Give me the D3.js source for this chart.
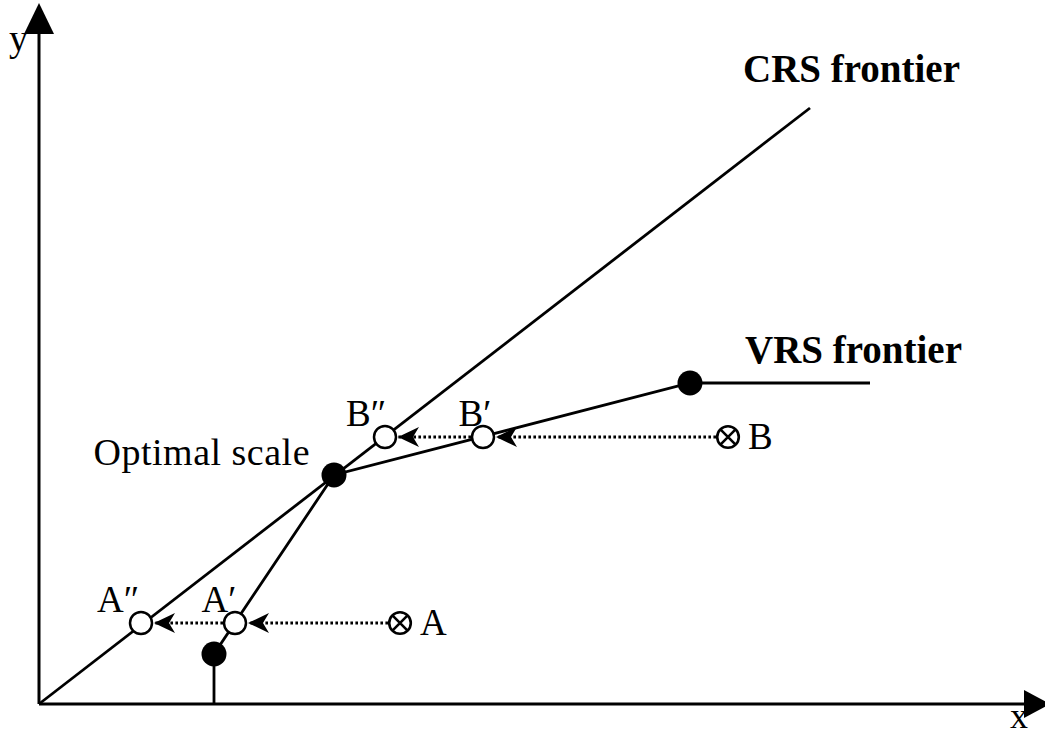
<!DOCTYPE html>
<html>
<head>
<meta charset="utf-8">
<script src="https://cdn.jsdelivr.net/npm/d3@7"></script>
<style>
  body { margin: 0; background: #fff; }
  text { font-family: "Liberation Serif", "Times New Roman", serif; fill: #000; }
</style>
</head>
<body>
<div id="chart"></div>
<script>
// DEA frontier sketch (CRS vs VRS)

const width = 1045, height = 735;

// data, in sketch units (x: input, y: output)
const crsLine = [[0, 0], [77.1, 59.6]];
const vrsLine = [[17.5, 0], [17.5, 5.0], [29.5, 22.9], [65.1, 32.1], [83.1, 32.1]];
const vrsPoints = [[17.5, 5.0], [29.5, 22.9], [65.1, 32.1]];
const projNames = ["A″", "A′", "B″", "B′"];
const projPoints = [[10.2, 8.1], [19.6, 8.1], [34.6, 26.7], [44.4, 26.7]];
const unitNames = ["A", "B"];
const unitPoints = [[36.1, 8.1], [68.9, 26.7]];
// projection arrows: from -> to
const arrows = [
  {from: unitPoints[0], to: projPoints[1]},
  {from: projPoints[1], to: projPoints[0]},
  {from: unitPoints[1], to: projPoints[3]},
  {from: projPoints[3], to: projPoints[2]}
];

const x = d3.scaleLinear().domain([0, 100]).range([39, 1039]);
const y = d3.scaleLinear().domain([0, 70]).range([704, 4]);

const svg = d3.select("#chart")
  .append("svg")
  .attr("width", width)
  .attr("height", height);

// arrow marker (tip at the end of the line)
svg.append("defs").append("marker")
  .attr("id", "head")
  .attr("viewBox", "-24 -11 24 22")
  .attr("refX", 0)
  .attr("refY", 0)
  .attr("markerUnits", "userSpaceOnUse")
  .attr("markerWidth", 24)
  .attr("markerHeight", 22)
  .attr("orient", "auto")
  .append("path")
  .attr("d", "M0,0 L-21,-10 L-15,0 L-21,10 Z")
  .attr("fill", "#000");

// axes
svg.append("line")
  .attr("x1", x(0)).attr("y1", y(0))
  .attr("x2", x(0)).attr("y2", 30)
  .attr("stroke", "#000").attr("stroke-width", 3);
svg.append("line")
  .attr("x1", x(0)).attr("y1", y(0))
  .attr("x2", 1028).attr("y2", y(0))
  .attr("stroke", "#000").attr("stroke-width", 3);
svg.append("path")
  .attr("d", `M${x(0)},3 L${x(0) - 15},34 L${x(0) + 15},34 Z`)
  .attr("fill", "#000");
svg.append("path")
  .attr("d", `M1050,${y(0)} L1024,${y(0) - 14} L1024,${y(0) + 14} Z`)
  .attr("fill", "#000");

svg.append("text")
  .attr("x", 9).attr("y", 51)
  .attr("font-size", 38)
  .text("y");
svg.append("text")
  .attr("x", 1010).attr("y", 728)
  .attr("font-size", 36)
  .text("x");

let line = d3.line()
  .x(d => x(d[0]))
  .y(d => y(d[1]));

svg.append("path")
  .datum(crsLine)
  .attr("d", line)
  .attr("fill", "none")
  .attr("stroke", "#000")
  .attr("stroke-width", 2.8);

svg.append("path")
  .datum(vrsLine)
  .attr("d", line)
  .attr("fill", "none")
  .attr("stroke", "#000")
  .attr("stroke-width", 2.8);

// dotted projection arrows
const rOpen = 11, rUnit = 10.8;
svg.selectAll(".proj")
  .data(arrows)
  .join("line")
  .attr("class", "proj")
  .attr("x1", d => x(d.from[0]) - rOpen - 1)
  .attr("y1", d => y(d.from[1]))
  .attr("x2", d => x(d.to[0]) + rOpen + 2)
  .attr("y2", d => y(d.to[1]))
  .attr("stroke", "#000")
  .attr("stroke-width", 3)
  .attr("stroke-dasharray", "2.6,2.4")
  .attr("marker-end", "url(#head)");

// filled frontier points
svg.selectAll(".vrs")
  .data(vrsPoints)
  .join("circle")
  .attr("cx", d => x(d[0]))
  .attr("cy", d => y(d[1]))
  .attr("r", 12.5)
  .attr("fill", "#000");

// projected points
svg.selectAll(".open")
  .data(projPoints)
  .join("circle")
  .attr("cx", d => x(d[0]))
  .attr("cy", d => y(d[1]))
  .attr("r", rOpen)
  .attr("fill", "#fff")
  .attr("stroke", "#000")
  .attr("stroke-width", 2.5);

// inefficient units, circle with a cross
const units = svg.selectAll(".unit")
  .data(unitPoints)
  .join("g")
  .attr("transform", d => `translate(${x(d[0])},${y(d[1])})`);
units.append("circle")
  .attr("r", rUnit)
  .attr("fill", "#fff")
  .attr("stroke", "#000")
  .attr("stroke-width", 2.6);
units.append("path")
  .attr("d", "M-7.6,-7.6 L7.6,7.6 M-7.6,7.6 L7.6,-7.6")
  .attr("stroke", "#000")
  .attr("stroke-width", 2.6);
units.append("text")
  .attr("x", 20)
  .attr("y", 12)
  .attr("font-size", 37)
  .text((d, i) => unitNames[i]);

// labels for projected points
const labelDx = [-23, -16, -19, -8];
svg.selectAll(".plabel")
  .data(projPoints)
  .join("text")
  .attr("x", (d, i) => x(d[0]) + labelDx[i])
  .attr("y", d => y(d[1]) - 11)
  .attr("text-anchor", "middle")
  .attr("font-size", 37)
  .text((d, i) => projNames[i]);

svg.append("text")
  .attr("x", x(vrsPoints[1][0]) - 24)
  .attr("y", y(vrsPoints[1][1]) - 10)
  .attr("text-anchor", "end")
  .attr("font-size", 38)
  .attr("letter-spacing", 0.5)
  .text("Optimal scale");

svg.append("text")
  .attr("x", 743).attr("y", 82)
  .attr("font-size", 39)
  .attr("font-weight", "bold")
  .text("CRS frontier");

svg.append("text")
  .attr("x", 745).attr("y", 363)
  .attr("font-size", 39)
  .attr("font-weight", "bold")
  .text("VRS frontier");
</script>
</body>
</html>
